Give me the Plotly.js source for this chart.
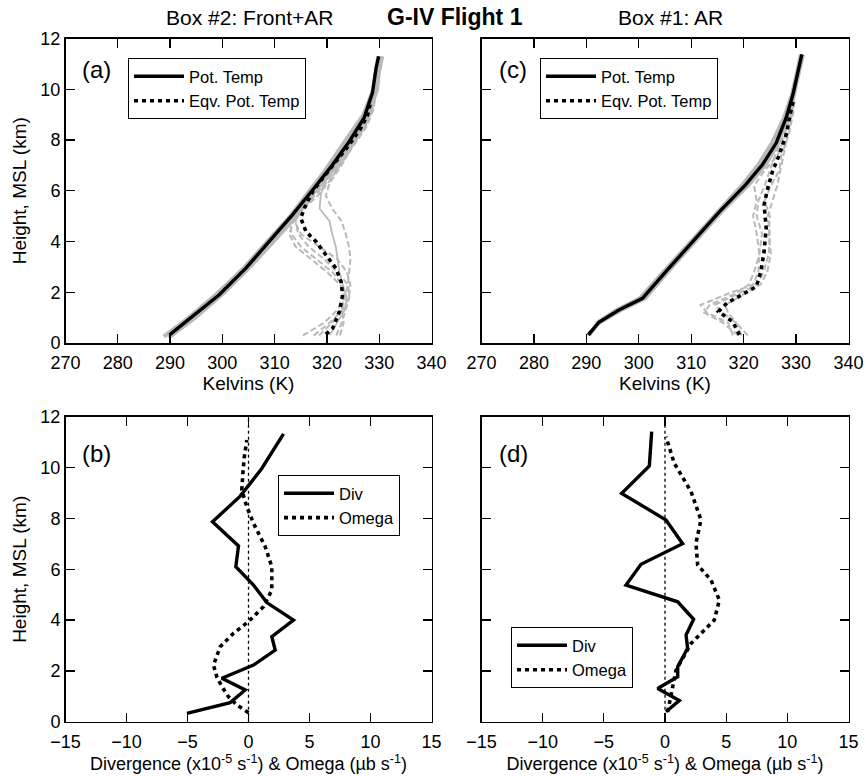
<!DOCTYPE html>
<html>
<head>
<meta charset="utf-8">
<script src="https://cdn.plot.ly/plotly-3.0.1.min.js"></script>
<style>html,body{margin:0;padding:0;background:#fff;}#chart{width:866px;height:776px;}</style>
</head>
<body>
<div id="chart"></div>
<script>
// ---------- Panel (a): Box #2 Front+AR, potential temperatures (K) vs height (km) ----------
const hA_pt = [0.32, 1.04, 1.9, 2.95, 4.0, 5.05, 6.04, 7.03, 7.95, 8.87, 9.86, 10.84, 11.3];
const ptA   = [289.9, 294.3, 299.4, 304.5, 309.0, 313.4, 317.3, 321.1, 324.3, 327.1, 328.7, 329.4, 329.9];
const hA_sonde = [0.25, 1.0, 2.0, 3.0, 4.0, 5.0, 6.0, 7.0, 8.0, 9.0, 10.0, 11.3];
const ptA_s1 = [288.8, 293.6, 299.3, 304.3, 308.6, 313.0, 316.7, 320.5, 324.8, 327.5, 329.2, 330.6];
const ptA_s2 = [289.6, 294.6, 300.0, 305.0, 309.4, 313.8, 317.8, 321.8, 325.0, 327.9, 329.6, 330.2];
const ptA_s3 = [290.0, 294.8, 300.4, 305.3, 309.8, 314.2, 317.0, 320.2, 323.6, 327.0, 328.9, 329.8];
const hA_eq = [0.34, 0.58, 1.24, 1.9, 2.42, 2.95, 3.47, 4.0, 4.39, 4.92, 5.32, 5.97, 6.5, 7.16, 7.82, 8.47, 9.0, 9.53];
const eqA   = [319.8, 321.1, 322.4, 323.0, 322.7, 321.7, 319.8, 317.9, 316.0, 315.0, 315.7, 317.3, 319.2, 321.7, 324.3, 326.5, 327.8, 328.4];
const hA_eqs = [0.3, 0.8, 1.3, 1.8, 2.3, 2.8, 3.3, 3.8, 4.3, 4.8, 5.3, 5.8, 6.3, 7.0, 7.8, 8.5, 9.2, 9.6];
const eqA_s1 = [315.4, 319.5, 322.0, 323.2, 323.0, 321.0, 318.0, 315.0, 313.2, 313.0, 314.8, 317.0, 319.0, 321.8, 324.5, 326.6, 328.2, 328.6];
const eqA_s2 = [317.5, 320.5, 323.0, 324.2, 324.5, 323.8, 322.0, 318.5, 315.0, 313.8, 315.5, 317.6, 319.8, 322.4, 324.8, 326.9, 328.5, 328.9];
const eqA_s3 = [320.5, 322.0, 323.4, 323.8, 323.0, 322.4, 322.0, 321.7, 321.0, 320.5, 318.6, 318.8, 319.4, 322.0, 324.9, 327.3, 328.7, 329.0];
const eqA_s4 = [321.8, 322.8, 323.6, 324.3, 324.0, 322.0, 319.5, 316.5, 314.5, 314.0, 314.4, 316.4, 318.6, 321.4, 324.0, 326.2, 327.9, 328.5];
const eqA_s5 = [322.5, 323.2, 322.8, 323.5, 324.0, 324.3, 324.5, 324.2, 323.6, 322.8, 321.0, 319.8, 320.5, 322.8, 325.0, 327.2, 328.6, 329.1];
const eqA_s6 = [318.5, 321.0, 322.6, 323.4, 322.5, 320.0, 317.0, 314.0, 312.8, 313.6, 315.6, 318.2, 320.2, 322.6, 325.2, 327.5, 328.9, 329.2];

// ---------- Panel (c): Box #1 AR ----------
const hC_pt = [0.32, 0.82, 1.3, 1.76, 2.82, 4.0, 5.18, 6.24, 7.03, 7.88, 8.87, 9.79, 10.58, 11.37];
const ptC   = [290.4, 292.4, 296.2, 300.7, 305.2, 310.3, 315.4, 320.4, 323.6, 326.2, 328.1, 329.4, 330.3, 331.1];
const ptC_s1 = [290.2, 292.6, 296.6, 301.2, 305.6, 310.6, 315.8, 321.0, 324.2, 326.6, 328.3, 329.6, 330.5, 331.3];
const ptC_s2 = [290.6, 292.2, 295.8, 300.2, 304.8, 309.9, 315.0, 319.8, 322.8, 325.4, 327.7, 329.2, 330.1, 330.9];
const hC_eq = [0.32, 0.84, 0.97, 1.24, 1.57, 1.9, 2.22, 2.82, 3.6, 4.53, 5.45, 6.1, 6.76, 7.42, 8.2, 9.13, 9.5];
const eqC   = [319.2, 317.9, 317.0, 315.2, 316.8, 319.8, 322.4, 323.3, 323.9, 324.3, 323.9, 324.6, 325.5, 326.8, 328.1, 329.0, 329.4];
const hC_eqs = [0.3, 0.8, 1.2, 1.5, 1.9, 2.3, 2.8, 3.5, 4.3, 5.0, 5.6, 6.2, 6.8, 7.4, 8.2, 9.0, 9.6];
const eqC_s1 = [318.0, 317.0, 313.0, 311.8, 316.5, 321.8, 322.8, 323.0, 322.5, 321.8, 322.5, 322.0, 324.0, 326.5, 328.0, 329.0, 329.5];
const eqC_s2 = [320.8, 318.5, 316.0, 314.5, 318.5, 322.6, 323.8, 324.8, 325.0, 324.6, 325.5, 326.4, 327.0, 327.6, 328.4, 329.2, 329.6];
const eqC_s3 = [319.0, 316.0, 312.5, 313.5, 318.0, 321.0, 322.0, 323.0, 323.5, 322.5, 322.8, 324.0, 325.0, 326.0, 327.8, 329.0, 329.3];
const eqC_s4 = [319.6, 318.6, 317.0, 316.5, 319.8, 323.2, 324.5, 325.2, 324.8, 325.0, 324.0, 325.2, 326.8, 327.2, 328.6, 329.4, 329.8];

// ---------- Panel (b): Box #2 divergence & omega ----------
const hB_div = [0.33, 0.75, 1.25, 1.71, 2.23, 2.82, 3.35, 4.0, 4.69, 5.38, 6.1, 6.92, 7.87, 8.88, 9.97, 11.33];
const divB   = [-5.05, -1.5, -0.27, -2.19, 0.41, 2.19, 1.91, 3.69, 1.5, 0.41, -1.04, -0.82, -2.95, -0.68, 1.09, 2.87];
const hB_om  = [0.35, 0.66, 0.98, 1.4, 1.77, 2.23, 2.95, 3.48, 3.94, 4.53, 5.18, 6.1, 6.89, 7.81, 8.46, 9.12, 9.78, 10.4, 11.09];
const omB    = [0.0, -0.96, -1.64, -2.2, -2.6, -2.87, -2.32, -1.23, 0.0, 1.23, 1.91, 1.91, 1.37, 0.41, -0.14, -0.55, -0.46, -0.35, -0.14];

// ---------- Panel (d): Box #1 divergence & omega ----------
const hD_div = [0.39, 0.83, 1.31, 1.61, 1.77, 2.17, 2.89, 3.41, 4.03, 4.72, 5.38, 6.2, 7.01, 7.94, 8.99, 10.07, 11.42];
const divD   = [0.08, 1.17, -0.6, 0.49, 1.04, 1.04, 1.85, 1.72, 2.34, 1.04, -3.19, -1.96, 1.44, 0.08, -3.54, -1.28, -1.09];
const hD_om  = [0.39, 1.38, 2.03, 3.08, 4.0, 4.79, 5.58, 6.17, 7.03, 7.94, 9.06, 10.17, 11.22];
const omD    = [0.22, 0.63, 0.9, 2.13, 4.03, 4.44, 3.76, 2.67, 2.53, 2.94, 2.13, 0.76, 0.08];

const heightTicks = [0, 2, 4, 6, 8, 10, 12];
const kelvinTicks = [270, 280, 290, 300, 310, 320, 330, 340];
const divTicks = [-15, -10, -5, 0, 5, 10, 15];

// ---------- build ----------
const FONT = 'Liberation Sans, Arial, Helvetica, sans-serif';
const GRAY = '#b9b9b9';
const DOT = '4px,4px';
const GDASH = '6px,3px';

function grayLine(x, y, xa, ya, solid, w) {
  return {x: x, y: y, xaxis: xa, yaxis: ya, mode: 'lines', showlegend: false, hoverinfo: 'skip',
          line: {color: GRAY, width: w || (solid ? 4 : 2), dash: solid ? 'solid' : GDASH}};
}
function blackLine(x, y, xa, ya, name, dotted, legend) {
  return {x: x, y: y, xaxis: xa, yaxis: ya, mode: 'lines', name: name, legend: legend,
          line: {color: '#000', width: dotted ? 3.6 : 3.4, dash: dotted ? DOT : 'solid'}};
}

const traces = [];
// (a)
[eqA_s1, eqA_s2, eqA_s4, eqA_s5, eqA_s6].forEach(s => traces.push(grayLine(s, hA_eqs, 'x', 'y', false)));
traces.push(grayLine(eqA_s3, hA_eqs, 'x', 'y', true, 1.8));
[ptA_s1, ptA_s2, ptA_s3].forEach(s => traces.push(grayLine(s, hA_sonde, 'x', 'y', true)));
traces.push(blackLine(ptA, hA_pt, 'x', 'y', 'Pot. Temp', false, 'legend'));
traces.push(blackLine(eqA, hA_eq, 'x', 'y', 'Eqv. Pot. Temp', true, 'legend'));
// (c)
[eqC_s1, eqC_s2, eqC_s3, eqC_s4].forEach(s => traces.push(grayLine(s, hC_eqs, 'x2', 'y2', false)));
[ptC_s1, ptC_s2].forEach(s => traces.push(grayLine(s, hC_pt, 'x2', 'y2', true)));
traces.push(blackLine(ptC, hC_pt, 'x2', 'y2', 'Pot. Temp', false, 'legend2'));
traces.push(blackLine(eqC, hC_eq, 'x2', 'y2', 'Eqv. Pot. Temp', true, 'legend2'));
// (b)
traces.push(blackLine(divB, hB_div, 'x3', 'y3', 'Div', false, 'legend3'));
traces.push(blackLine(omB, hB_om, 'x3', 'y3', 'Omega', true, 'legend3'));
// (d)
traces.push(blackLine(divD, hD_div, 'x4', 'y4', 'Div', false, 'legend4'));
traces.push(blackLine(omD, hD_om, 'x4', 'y4', 'Omega', true, 'legend4'));

const xL = [65.5 / 866, 431.5 / 866];
const xR = [481.5 / 866, 848.5 / 866];
const yU = [(776 - 343) / 776, (776 - 38.5) / 776];
const yD = [(776 - 721.7) / 776, (776 - 416.9) / 776];

function ax(extra) {
  return Object.assign({
    showline: true, mirror: 'ticks', linecolor: '#000', linewidth: 1.5,
    ticks: 'inside', ticklen: 9, tickwidth: 1.3, tickcolor: '#000',
    showgrid: false, zeroline: false, fixedrange: true,
    tickfont: {family: FONT, size: 18, color: '#000'}
  }, extra);
}
const kTitle = {text: 'Kelvins (K)', font: {family: FONT, size: 19, color: '#000'}, standoff: 2};
const dTitle = {text: 'Divergence (x10<sup>-5</sup> s<sup>-1</sup>) &amp; Omega (µb s<sup>-1</sup>)', font: {family: FONT, size: 18, color: '#000'}, standoff: 1};
const hTitle = {text: 'Height, MSL (km)', font: {family: FONT, size: 19, color: '#000'}, standoff: 8};

function legendBox(x, y) {
  return {x: x, y: y, xanchor: 'left', yanchor: 'top', bgcolor: '#fff', bordercolor: '#000', borderwidth: 1,
          font: {family: FONT, size: 16.5, color: '#000'}, itemwidth: 50, tracegroupgap: 0};
}

const layout = {
  width: 866, height: 776,
  margin: {l: 0, r: 0, t: 0, b: 0},
  paper_bgcolor: '#fff', plot_bgcolor: '#fff',
  font: {family: FONT, color: '#000'},
  xaxis:  ax({domain: xL, anchor: 'y',  range: [270, 340], tickvals: kelvinTicks, title: kTitle, ticklabelstandoff: 3}),
  yaxis:  ax({domain: yU, anchor: 'x',  range: [0, 12], tickvals: heightTicks, title: hTitle}),
  xaxis2: ax({domain: xR, anchor: 'y2', range: [270, 340], tickvals: kelvinTicks, title: kTitle, ticklabelstandoff: 3}),
  yaxis2: ax({domain: yU, anchor: 'x2', range: [0, 12], tickvals: heightTicks, showticklabels: false}),
  xaxis3: ax({domain: xL, anchor: 'y3', range: [-15, 15], tickvals: divTicks, title: dTitle, ticklabelstandoff: 3}),
  yaxis3: ax({domain: yD, anchor: 'x3', range: [0, 12], tickvals: heightTicks, title: hTitle}),
  xaxis4: ax({domain: xR, anchor: 'y4', range: [-15, 15], tickvals: divTicks, title: dTitle, ticklabelstandoff: 3}),
  yaxis4: ax({domain: yD, anchor: 'x4', range: [0, 12], tickvals: heightTicks, showticklabels: false}),
  legend:  legendBox(128 / 866, (776 - 58) / 776),
  legend2: legendBox(540 / 866, (776 - 58) / 776),
  legend3: legendBox(278 / 866, (776 - 475) / 776),
  legend4: legendBox(511 / 866, (776 - 627) / 776),
  shapes: [
    {type: 'line', xref: 'x3', yref: 'y3', x0: 0, x1: 0, y0: 0, y1: 12, line: {color: '#000', width: 1.3, dash: 'dot'}},
    {type: 'line', xref: 'x4', yref: 'y4', x0: 0, x1: 0, y0: 0, y1: 12, line: {color: '#000', width: 1.3, dash: 'dot'}}
  ],
  annotations: [
    {text: 'Box #2: Front+AR', xref: 'paper', yref: 'paper', x: 250 / 866, y: (776 - 17) / 776, showarrow: false, xanchor: 'center', yanchor: 'middle', font: {family: FONT, size: 21, color: '#000'}},
    {text: '<b>G-IV Flight 1</b>', xref: 'paper', yref: 'paper', x: 455 / 866, y: (776 - 17) / 776, showarrow: false, xanchor: 'center', yanchor: 'middle', font: {family: FONT, size: 23, color: '#000'}},
    {text: 'Box #1: AR', xref: 'paper', yref: 'paper', x: 670 / 866, y: (776 - 17) / 776, showarrow: false, xanchor: 'center', yanchor: 'middle', font: {family: FONT, size: 21, color: '#000'}},
    {text: '(a)', xref: 'x domain', yref: 'y domain', x: 0.086, y: 0.897, showarrow: false, xanchor: 'center', yanchor: 'middle', font: {family: FONT, size: 24, color: '#000'}},
    {text: '(c)', xref: 'x2 domain', yref: 'y2 domain', x: 0.086, y: 0.897, showarrow: false, xanchor: 'center', yanchor: 'middle', font: {family: FONT, size: 24, color: '#000'}},
    {text: '(b)', xref: 'x3 domain', yref: 'y3 domain', x: 0.086, y: 0.881, showarrow: false, xanchor: 'center', yanchor: 'middle', font: {family: FONT, size: 24, color: '#000'}},
    {text: '(d)', xref: 'x4 domain', yref: 'y4 domain', x: 0.086, y: 0.881, showarrow: false, xanchor: 'center', yanchor: 'middle', font: {family: FONT, size: 24, color: '#000'}}
  ]
};

Plotly.newPlot('chart', traces, layout, {staticPlot: true, displayModeBar: false});
</script>
</body>
</html>
